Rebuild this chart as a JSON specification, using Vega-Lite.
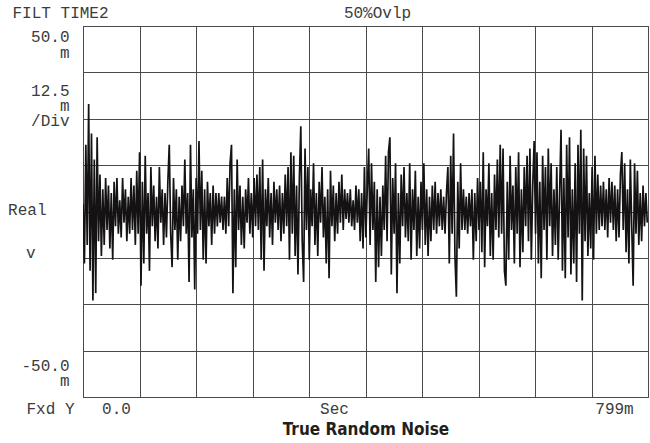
{
  "$schema": "https://vega.github.io/schema/vega-lite/v6.json",
  "width": 565,
  "height": 371,
  "autosize": {"type": "none"},
  "padding": {"left": 83, "top": 26, "right": 2, "bottom": 46},
  "background": "white",
  "config": {
    "view": {"stroke": "#3a3a3a", "strokeWidth": 1},
    "axis": {"labelFont": "Liberation Mono", "labelFontSize": 16, "labelColor": "#3c3c3c"}
  },
  "data": {"values": [
{"t":0,"v":2},{"t":2,"v":-14},{"t":4,"v":18},{"t":6,"v":-9},{"t":8,"v":29},{"t":10,"v":-16},{"t":12,"v":21},{"t":14,"v":-24},{"t":16,"v":14},{"t":18,"v":-22},{"t":20,"v":20},{"t":22,"v":-8},{"t":24,"v":10},{"t":26,"v":-12},{"t":28,"v":6},{"t":30,"v":-9},{"t":32,"v":9},{"t":34,"v":-5},{"t":36,"v":7},{"t":38,"v":-10},
{"t":40,"v":5},{"t":42,"v":-13},{"t":44,"v":8},{"t":46,"v":-4},{"t":48,"v":9},{"t":50,"v":-6},{"t":52,"v":3},{"t":54,"v":-7},{"t":56,"v":9},{"t":58,"v":-3},{"t":60,"v":6},{"t":62,"v":-8},{"t":64,"v":4},{"t":66,"v":-6},{"t":68,"v":9},{"t":70,"v":-5},{"t":72,"v":7},{"t":74,"v":-9},{"t":76,"v":11},{"t":78,"v":-6},
{"t":80,"v":16},{"t":82,"v":-20},{"t":84,"v":8},{"t":86,"v":-14},{"t":88,"v":15},{"t":90,"v":-6},{"t":92,"v":5},{"t":94,"v":-16},{"t":96,"v":12},{"t":98,"v":-4},{"t":100,"v":7},{"t":102,"v":-8},{"t":104,"v":4},{"t":106,"v":-10},{"t":108,"v":12},{"t":110,"v":-3},{"t":112,"v":6},{"t":114,"v":-9},{"t":116,"v":5},{"t":118,"v":-7},
{"t":120,"v":8},{"t":122,"v":18},{"t":124,"v":-6},{"t":126,"v":-15},{"t":128,"v":9},{"t":130,"v":-5},{"t":132,"v":6},{"t":134,"v":-13},{"t":136,"v":4},{"t":138,"v":-8},{"t":140,"v":7},{"t":142,"v":-4},{"t":144,"v":14},{"t":146,"v":-6},{"t":148,"v":5},{"t":150,"v":-19},{"t":152,"v":18},{"t":154,"v":-7},{"t":156,"v":6},{"t":158,"v":-21},
{"t":160,"v":9},{"t":162,"v":-6},{"t":164,"v":19},{"t":166,"v":-5},{"t":168,"v":11},{"t":170,"v":-13},{"t":172,"v":6},{"t":174,"v":-14},{"t":176,"v":8},{"t":178,"v":-4},{"t":180,"v":5},{"t":182,"v":-9},{"t":184,"v":7},{"t":186,"v":-6},{"t":188,"v":5},{"t":190,"v":-4},{"t":192,"v":5},{"t":194,"v":-3},{"t":196,"v":4},{"t":198,"v":-5},
{"t":200,"v":4},{"t":202,"v":-6},{"t":204,"v":9},{"t":206,"v":-4},{"t":208,"v":13},{"t":210,"v":18},{"t":212,"v":-22},{"t":214,"v":6},{"t":216,"v":-15},{"t":218,"v":14},{"t":220,"v":-5},{"t":222,"v":7},{"t":224,"v":-9},{"t":226,"v":4},{"t":228,"v":-10},{"t":230,"v":6},{"t":232,"v":-3},{"t":234,"v":9},{"t":236,"v":-6},{"t":238,"v":5},
{"t":240,"v":-7},{"t":242,"v":9},{"t":244,"v":-4},{"t":246,"v":10},{"t":248,"v":-5},{"t":250,"v":12},{"t":252,"v":-13},{"t":254,"v":14},{"t":256,"v":-16},{"t":258,"v":6},{"t":260,"v":-4},{"t":262,"v":9},{"t":264,"v":-7},{"t":266,"v":5},{"t":268,"v":-9},{"t":270,"v":8},{"t":272,"v":-3},{"t":274,"v":6},{"t":276,"v":-5},{"t":278,"v":7},
{"t":280,"v":-8},{"t":282,"v":5},{"t":284,"v":-6},{"t":286,"v":10},{"t":288,"v":-4},{"t":290,"v":12},{"t":292,"v":-13},{"t":294,"v":16},{"t":296,"v":-6},{"t":298,"v":15},{"t":300,"v":-12},{"t":302,"v":7},{"t":304,"v":-17},{"t":306,"v":9},{"t":308,"v":23},{"t":310,"v":-8},{"t":312,"v":-19},{"t":314,"v":17},{"t":316,"v":-5},{"t":318,"v":12},
{"t":320,"v":-13},{"t":322,"v":6},{"t":324,"v":-4},{"t":326,"v":13},{"t":328,"v":-9},{"t":330,"v":5},{"t":332,"v":-12},{"t":334,"v":8},{"t":336,"v":-3},{"t":338,"v":12},{"t":340,"v":-7},{"t":342,"v":4},{"t":344,"v":-14},{"t":346,"v":6},{"t":348,"v":-18},{"t":350,"v":11},{"t":352,"v":-4},{"t":354,"v":7},{"t":356,"v":-8},{"t":358,"v":5},
{"t":360,"v":-6},{"t":362,"v":8},{"t":364,"v":-3},{"t":366,"v":10},{"t":368,"v":-5},{"t":370,"v":6},{"t":372,"v":-2},{"t":374,"v":5},{"t":376,"v":-3},{"t":378,"v":6},{"t":380,"v":-4},{"t":382,"v":3},{"t":384,"v":-5},{"t":386,"v":7},{"t":388,"v":-3},{"t":390,"v":6},{"t":392,"v":-8},{"t":394,"v":5},{"t":396,"v":-10},{"t":398,"v":12},
{"t":400,"v":-7},{"t":402,"v":6},{"t":404,"v":17},{"t":406,"v":-9},{"t":408,"v":13},{"t":410,"v":-5},{"t":412,"v":8},{"t":414,"v":-19},{"t":416,"v":6},{"t":418,"v":-15},{"t":420,"v":4},{"t":422,"v":-12},{"t":424,"v":7},{"t":426,"v":-5},{"t":428,"v":15},{"t":430,"v":-8},{"t":432,"v":16},{"t":434,"v":20},{"t":436,"v":-17},{"t":438,"v":9},
{"t":440,"v":-6},{"t":442,"v":13},{"t":444,"v":-22},{"t":446,"v":5},{"t":448,"v":-14},{"t":450,"v":10},{"t":452,"v":-4},{"t":454,"v":12},{"t":456,"v":-7},{"t":458,"v":5},{"t":460,"v":-8},{"t":462,"v":13},{"t":464,"v":-13},{"t":466,"v":6},{"t":468,"v":-5},{"t":470,"v":11},{"t":472,"v":-12},{"t":474,"v":4},{"t":476,"v":-10},{"t":478,"v":8},
{"t":480,"v":-5},{"t":482,"v":13},{"t":484,"v":-9},{"t":486,"v":6},{"t":488,"v":-12},{"t":490,"v":4},{"t":492,"v":-8},{"t":494,"v":7},{"t":496,"v":-5},{"t":498,"v":8},{"t":500,"v":-6},{"t":502,"v":5},{"t":504,"v":-4},{"t":506,"v":6},{"t":508,"v":-5},{"t":510,"v":4},{"t":512,"v":-6},{"t":514,"v":5},{"t":516,"v":12},{"t":518,"v":-14},
{"t":520,"v":15},{"t":522,"v":-6},{"t":524,"v":21},{"t":526,"v":-12},{"t":528,"v":-23},{"t":530,"v":8},{"t":532,"v":-10},{"t":534,"v":13},{"t":536,"v":-5},{"t":538,"v":6},{"t":540,"v":-5},{"t":542,"v":4},{"t":544,"v":-6},{"t":546,"v":5},{"t":548,"v":-4},{"t":550,"v":6},{"t":552,"v":-13},{"t":554,"v":5},{"t":556,"v":-8},{"t":558,"v":9},
{"t":560,"v":-5},{"t":562,"v":8},{"t":564,"v":-11},{"t":566,"v":16},{"t":568,"v":-15},{"t":570,"v":6},{"t":572,"v":-4},{"t":574,"v":13},{"t":576,"v":-12},{"t":578,"v":5},{"t":580,"v":-13},{"t":582,"v":10},{"t":584,"v":-5},{"t":586,"v":14},{"t":588,"v":-7},{"t":590,"v":18},{"t":592,"v":-6},{"t":594,"v":17},{"t":596,"v":-16},{"t":598,"v":-20},
{"t":600,"v":8},{"t":602,"v":-13},{"t":604,"v":15},{"t":606,"v":-5},{"t":608,"v":7},{"t":610,"v":-14},{"t":612,"v":12},{"t":614,"v":-6},{"t":616,"v":16},{"t":618,"v":-15},{"t":620,"v":6},{"t":622,"v":-11},{"t":624,"v":12},{"t":626,"v":-4},{"t":628,"v":15},{"t":630,"v":-8},{"t":632,"v":17},{"t":634,"v":-13},{"t":636,"v":7},{"t":638,"v":19},
{"t":640,"v":-6},{"t":642,"v":16},{"t":644,"v":-14},{"t":646,"v":8},{"t":648,"v":-18},{"t":650,"v":15},{"t":652,"v":-5},{"t":654,"v":12},{"t":656,"v":-13},{"t":658,"v":17},{"t":660,"v":-4},{"t":662,"v":13},{"t":664,"v":-12},{"t":666,"v":6},{"t":668,"v":-9},{"t":670,"v":12},{"t":672,"v":-13},{"t":674,"v":5},{"t":676,"v":22},{"t":678,"v":-16},
{"t":680,"v":9},{"t":682,"v":-18},{"t":684,"v":18},{"t":686,"v":-7},{"t":688,"v":20},{"t":690,"v":-17},{"t":692,"v":6},{"t":694,"v":-14},{"t":696,"v":13},{"t":698,"v":-19},{"t":700,"v":18},{"t":702,"v":-6},{"t":704,"v":22},{"t":706,"v":-24},{"t":708,"v":17},{"t":710,"v":-8},{"t":712,"v":15},{"t":714,"v":-12},{"t":716,"v":5},{"t":718,"v":-10},
{"t":720,"v":12},{"t":722,"v":-13},{"t":724,"v":15},{"t":726,"v":-6},{"t":728,"v":10},{"t":730,"v":-5},{"t":732,"v":7},{"t":734,"v":-4},{"t":736,"v":8},{"t":738,"v":-5},{"t":740,"v":6},{"t":742,"v":-7},{"t":744,"v":9},{"t":746,"v":-3},{"t":748,"v":8},{"t":750,"v":-5},{"t":752,"v":7},{"t":754,"v":-8},{"t":756,"v":6},{"t":758,"v":-7},
{"t":760,"v":10},{"t":762,"v":16},{"t":764,"v":-5},{"t":766,"v":13},{"t":768,"v":-11},{"t":770,"v":6},{"t":772,"v":-14},{"t":774,"v":14},{"t":776,"v":-4},{"t":778,"v":-20},{"t":780,"v":13},{"t":782,"v":-6},{"t":784,"v":11},{"t":786,"v":-9},{"t":788,"v":5},{"t":790,"v":-8},{"t":792,"v":7},{"t":794,"v":-4},{"t":796,"v":5},{"t":798,"v":-3}
  ]},
  "layer": [
    {
      "mark": {"type": "line", "color": "#141213", "strokeWidth": 1.7, "clip": true},
      "encoding": {
        "x": {
          "field": "t", "type": "quantitative",
          "scale": {"domain": [0, 799], "nice": false, "zero": false},
          "axis": {
            "orient": "bottom",
            "values": [0, 46.7, 79.9, 159.8, 239.7, 319.6, 354.9, 399.5, 479.4, 559.3, 639.2, 719.1, 750.9, 799],
            "labelExpr": "datum.value == 46.7 ? '0.0' : datum.value == 354.9 ? 'Sec' : datum.value == 750.9 ? '799m' : ''",
            "grid": true, "gridColor": "#4a4a4a", "gridWidth": 1,
            "gridOpacity": {"condition": {"test": "datum.value == 46.7 || datum.value == 354.9 || datum.value == 750.9", "value": 0}, "value": 1},
            "ticks": false, "domain": false, "labelFlush": false, "labelOverlap": false,
            "labelBaseline": "alphabetic", "labelPadding": 16,
            "title": "True Random Noise", "titleFont": "Liberation Sans Narrow, DejaVu Sans Condensed, sans-serif",
            "titleFontSize": 17, "titleFontWeight": "bold", "titleColor": "#231f20", "titlePadding": 5
          }
        },
        "y": {
          "field": "v", "type": "quantitative",
          "scale": {"domain": [-50, 50], "nice": false, "zero": false},
          "axis": {
            "orient": "left",
            "values": [50, 45.8, 41.6, 37.5, 31.4, 27.2, 25, 23.1, 12.5, 0, -0.9, -12.5, -25, -37.5, -42.9, -47, -50],
            "labelExpr": "datum.value == 45.8 ? '50.0' : datum.value == 41.6 ? 'm' : datum.value == 31.4 ? '12.5' : datum.value == 27.2 ? 'm' : datum.value == 23.1 ? '/Div' : datum.value == -0.9 ? 'Real' : datum.value == -12.5 ? 'v' : datum.value == -42.9 ? '-50.0' : datum.value == -47 ? 'm' : datum.value == -50 ? 'Fxd Y' : ''",
            "grid": true, "gridColor": "#4a4a4a", "gridWidth": 1,
            "gridOpacity": {"condition": {"test": "datum.value % 12.5 != 0", "value": 0}, "value": 1},
            "ticks": false, "domain": false, "labelFlush": false, "labelOverlap": false,
            "labelBaseline": "alphabetic",
            "labelPadding": {"condition": [
              {"test": "datum.value == -0.9", "value": 37},
              {"test": "datum.value == -12.5", "value": 48},
              {"test": "datum.value == -50", "value": 9}
            ], "value": 14},
            "labelOffset": {"condition": {"test": "datum.value == -50", "value": 16}, "value": 0},
            "title": null
          }
        }
      }
    },
    {
      "mark": {"type": "line", "opacity": 0},
      "encoding": {
        "x": {
          "field": "t", "type": "quantitative",
          "axis": {
            "orient": "top",
            "values": [35.4, 415.8],
            "labelExpr": "datum.value == 35.4 ? 'FILT TIME2' : '50%Ovlp'",
            "labelAlign": {"condition": {"test": "datum.value == 35.4", "value": "right"}, "value": "center"},
            "grid": false, "ticks": false, "domain": false, "labelFlush": false, "labelOverlap": false,
            "labelBaseline": "alphabetic", "labelPadding": 9, "title": null
          }
        },
        "y": {"field": "v", "type": "quantitative", "axis": null}
      }
    }
  ],
  "resolve": {"axis": {"x": "independent", "y": "independent"}}
}
